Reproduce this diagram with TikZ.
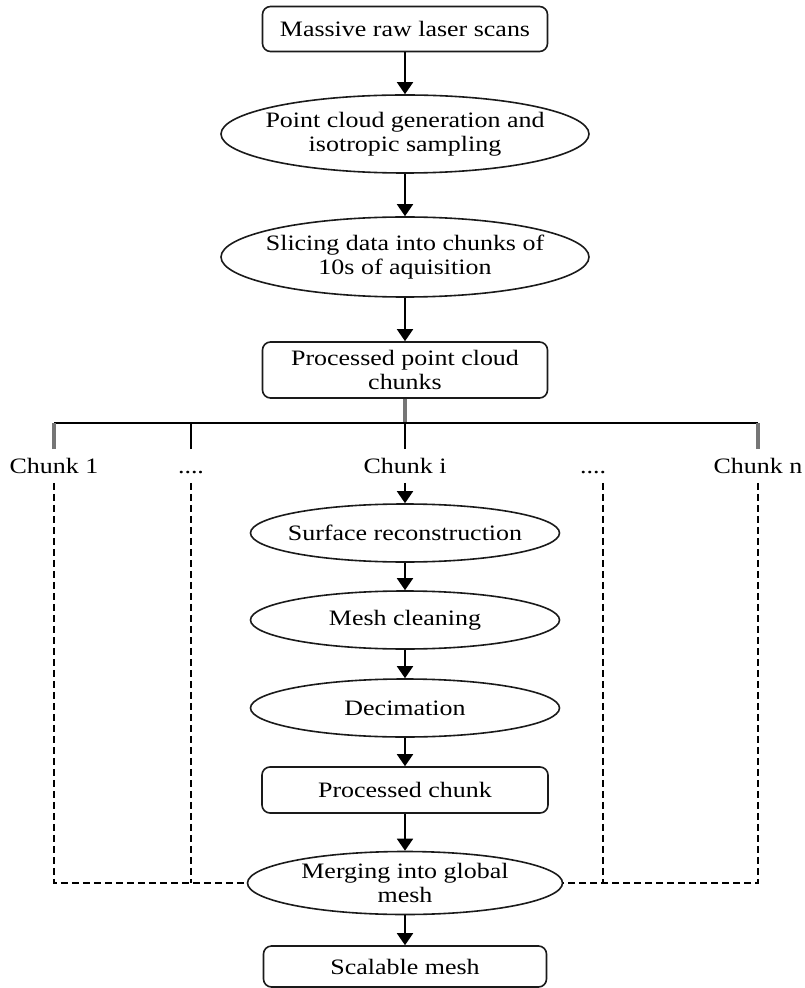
\documentclass[tikz,border=0pt]{standalone}
\usepackage{fontspec}
\setmainfont{Liberation Serif}[FakeStretch=1.18]
\usetikzlibrary{shapes.geometric,arrows.meta}
\definecolor{flowblack}{HTML}{1A1A1A}
\definecolor{flowgray}{HTML}{767676}
\newcommand{\flowfont}{\fontsize{11}{12}\selectfont}
\tikzset{
  stepbox/.style={draw=flowblack,rounded corners=4pt,line width=0.8pt,
    inner sep=0pt,align=center,font=\flowfont},
  stage/.style={ellipse,draw=flowblack,line width=0.8pt,inner xsep=-5pt,
    inner ysep=0pt,align=center,font=\flowfont},
  chunk label/.style={inner sep=4.5pt,text height=7.5pt,text depth=0pt,
    font=\flowfont},
  flow/.style={draw=black,line width=0.9pt,-{Triangle[width=8pt,length=6pt]}},
  branch/.style={draw=black,line width=0.9pt},
  gray branch/.style={draw=flowgray,line width=1.6pt},
  guide/.style={draw=black,dash pattern=on 3.5pt off 2pt,line width=0.8pt}
}

\begin{document}
\begin{tikzpicture}[x=0.5pt,y=-0.5pt]
  \useasboundingbox (0,0) rectangle (804,988);
  % upper pipeline
  \node[stepbox,minimum width=142.5pt,minimum height=22.5pt] (raw) at (405,29)
    {Massive raw laser scans};
  \node[stage,minimum width=184pt,minimum height=39pt] (pcgen) at (405,134)
    {Point cloud generation and\\isotropic sampling};
  \node[stage,minimum width=184pt,minimum height=40pt] (slice) at (405,257)
    {Slicing data into chunks of\\10s of aquisition};
  \node[stepbox,minimum width=142.5pt,minimum height=28pt] (chunks) at (405,370)
    {Processed point cloud\\chunks};
  \coordinate (fork) at (405,423);

  % chunk labels
  \node[chunk label] (c1) at (54,466) {Chunk 1};
  \node[chunk label] (d1) at (191,466) {....};
  \node[chunk label] (ci) at (405,466) {Chunk i};
  \node[chunk label] (d2) at (593,466) {....};
  \node[chunk label] (cn) at (758,466) {Chunk n};

  % per chunk pipeline
  \node[stage,minimum width=154.5pt,minimum height=29pt] (surf) at (405,533)
    {Surface reconstruction};
  \node[stage,minimum width=154.5pt,minimum height=29pt] (clean) at (405,620)
    {Mesh cleaning};
  \node[stage,minimum width=154.5pt,minimum height=29pt] (decim) at (405,708)
    {Decimation};
  \node[stepbox,minimum width=143pt,minimum height=23pt] (pchunk) at (405,790)
    {Processed chunk};
  \node[stage,minimum width=157.5pt,minimum height=31.5pt] (merge) at (405,883)
    {Merging into global\\mesh};
  \node[stepbox,minimum width=141.5pt,minimum height=20.5pt] (scal) at (405,966.5)
    {Scalable mesh};

  \foreach \a/\b in {raw/pcgen,pcgen/slice,slice/chunks,ci/surf,surf/clean,
      clean/decim,decim/pchunk,pchunk/merge,merge/scal}
    \draw[flow] (\a) -- (\b);

  % splitting into chunks
  \draw[gray branch] (chunks.south) -- (fork);
  \draw[branch] (c1.north |- fork) -- (cn.north |- fork);
  \draw[gray branch] (c1.north) -- (c1.north |- fork);
  \draw[branch] (d1.north) -- (d1.north |- fork);
  \draw[branch] (ci.north) -- (fork);
  \draw[gray branch] (cn.north) -- (cn.north |- fork);

  % other chunks go to the merge
  \draw[guide] (c1.south) |- (merge.west);
  \draw[guide] (d1.south) -- (d1.south |- merge.west);
  \draw[guide] ([xshift=5pt]d2.south) -- ([xshift=5pt]d2.south |- merge.east);
  \draw[guide] (cn.south) |- (merge.east);
\end{tikzpicture}
\end{document}
